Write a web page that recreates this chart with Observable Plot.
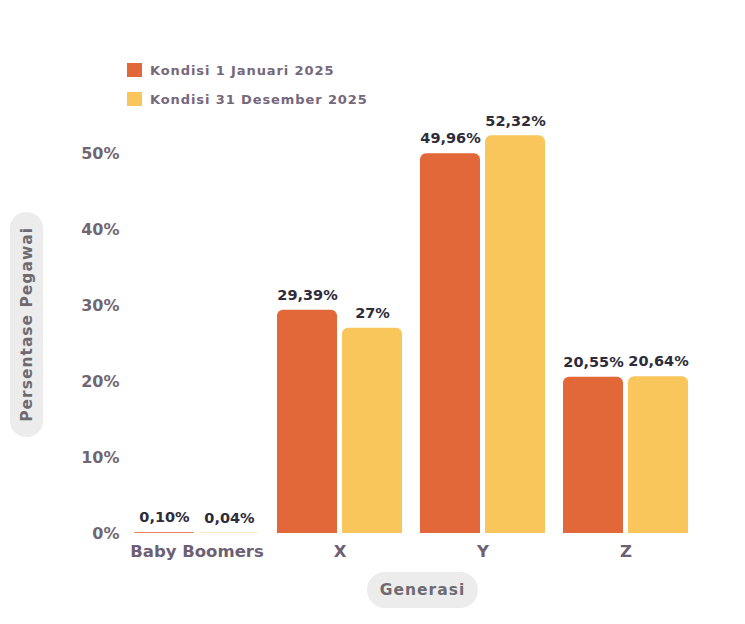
<!DOCTYPE html>
<html>
<head>
<meta charset="utf-8">
<script src="https://cdn.jsdelivr.net/npm/d3@7"></script>
<script src="https://cdn.jsdelivr.net/npm/@observablehq/plot@0.6"></script>
<style>
  html, body { margin: 0; padding: 0; background: #fff; }
  body { font-family: "DejaVu Sans", sans-serif; }
  #wrap { position: relative; width: 745px; height: 624px; overflow: hidden; }
  #legend { position: absolute; left: 127px; top: 63px; }
  .li { display: flex; align-items: center; height: 14px; margin-bottom: 15px; }
  .sw { width: 15px; height: 14px; margin-right: 8px; }
  .lt { font-size: 13px; font-weight: 700; color: #75687c; letter-spacing: 0.9px; }
  #chart { position: absolute; left: 0; top: 108px; }
  .pill { position: absolute; background: #ececec; color: #6e6a70; font-weight: 700; font-size: 15.5px;
          letter-spacing: 1px; display: flex; align-items: center; justify-content: center; }
  #ylab { left: 10px; top: 212px; width: 33px; height: 225px; border-radius: 16px; }
  #ylab span { writing-mode: vertical-rl; transform: rotate(180deg); }
  #xlab { left: 367px; top: 572px; width: 111px; height: 36px; border-radius: 18px; }
</style>
</head>
<body>
<div id="wrap">
  <div id="legend"></div>
  <div id="chart"></div>
  <div id="ylab" class="pill"><span>Persentase Pegawai</span></div>
  <div id="xlab" class="pill">Generasi</div>
</div>
<script>
const categories = ["Baby Boomers", "X", "Y", "Z"];
const series = ["Kondisi 1 Januari 2025", "Kondisi 31 Desember 2025"];
const valuesJan = [0.10, 29.39, 49.96, 20.55];
const valuesDes = [0.04, 27, 52.32, 20.64];
const labelsJan = ["0,10%", "29,39%", "49,96%", "20,55%"];
const labelsDes = ["0,04%", "27%", "52,32%", "20,64%"];
const yTicks = [0, 10, 20, 30, 40, 50];
const colors = ["#E2683A", "#F9C65C"];

const data = categories.flatMap((c, i) => [
  {gen: c, series: series[0], value: valuesJan[i], label: labelsJan[i]},
  {gen: c, series: series[1], value: valuesDes[i], label: labelsDes[i]}
]);

// legend
const legend = document.getElementById("legend");
series.forEach((s, i) => {
  const row = document.createElement("div");
  row.className = "li";
  row.innerHTML = `<div class="sw" style="background:${colors[i]}"></div><div class="lt">${s}</div>`;
  legend.appendChild(row);
});

const chart = Plot.plot({
  width: 745,
  height: 516,
  marginTop: 7,
  marginBottom: 91,
  marginLeft: 124,
  marginRight: 47,
  style: {fontFamily: "'DejaVu Sans', sans-serif", background: "transparent"},
  fx: {domain: categories, paddingInner: 0.115, paddingOuter: 0.0575, label: null, axis: null},
  x: {domain: series, axis: null, paddingInner: 0.075, paddingOuter: 0},
  y: {domain: [0, 55], axis: null},
  color: {domain: series, range: colors},
  marks: [
    Plot.axisY({ticks: yTicks, tickFormat: d => d + "%", tickSize: 0, tickPadding: 14,
                fontSize: 16, fontWeight: 700, fill: "#716773", label: null,
                style: {letterSpacing: "1.2px"}}),
    Plot.axisFx({anchor: "bottom", tickSize: 0, tickPadding: 12, fontSize: 16.5, fontWeight: 700,
                 fill: "#6d5f74", label: null, style: {letterSpacing: "0.7px"}}),
    Plot.barY(data, {fx: "gen", x: "series", y: "value", fill: "series", rx: 6}),
    Plot.barY(data, {fx: "gen", x: "series", y: d => d.value / 2, fill: "series"}),
    Plot.text(data, {fx: "gen", x: "series", y: "value", text: "label", dy: -15,
                     fontSize: 14.5, fontWeight: 700, fill: "#2e2c3a"})
  ]
});
document.getElementById("chart").appendChild(chart);
</script>
</body>
</html>
